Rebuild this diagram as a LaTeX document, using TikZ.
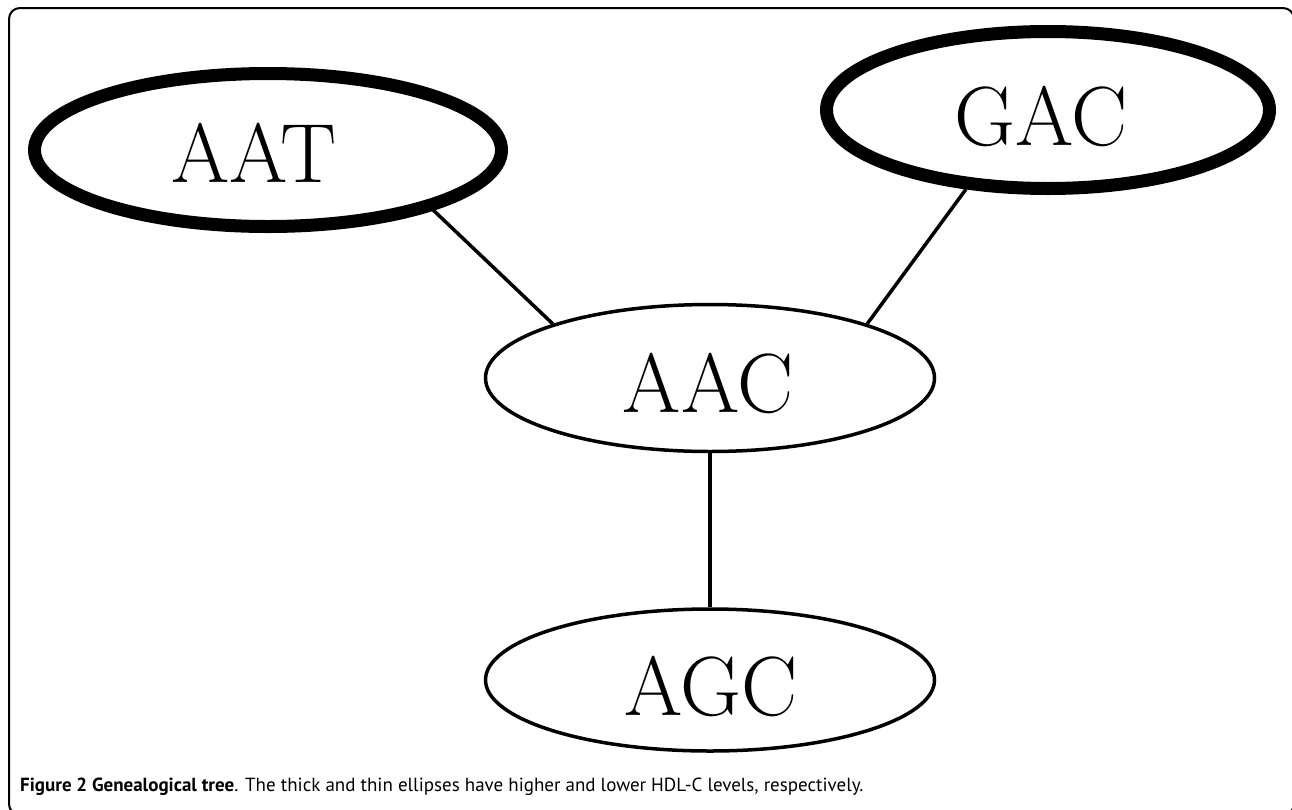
\documentclass[tikz,border=0pt]{standalone}
\usepackage{fontspec}
\newfontfamily\capfont{PT Sans}
\usetikzlibrary{shapes.geometric}
\tikzset{
  gene/.style={draw=black, ellipse, inner sep=0pt},
  hi/.style={gene, line width=13pt},
  lo/.style={gene, line width=3.5pt},
  lbl/.style={inner sep=0pt, font=\fontsize{84}{90}\selectfont},
  link/.style={draw=black, line width=3.5pt}
}
\begin{document}
\begin{tikzpicture}[x=1pt,y=-1pt]
\useasboundingbox (0,0) rectangle (1292,809);
\begin{scope}
\clip (0,0) rectangle (1292,809);
\draw[line width=2pt, rounded corners=11pt] (9,8) rectangle (1294,815);
\end{scope}
\node[hi, minimum width=467pt, minimum height=153pt] (aat) at (268,150) {};
\node[hi, minimum width=443pt, minimum height=157pt] (gac) at (1048,110) {};
\node[lo, minimum width=449pt, minimum height=147pt] (aac) at (710,378) {};
\node[lo, minimum width=449pt, minimum height=142pt] (agc) at (710,680) {};
\node[lbl] (aatt) at (254,153) {AAT};
\node[lbl] (gact) at (1041,116) {GAC};
\node[lbl] (aact) at (708,383) {AAC};
\node[lbl] (agct) at (711,686) {AGC};
\draw[link] (aat.-20.6) -- (aac.161.7);
\draw[link] (gac.-136) -- (aac.19);
\draw[link] (aac.south) -- (agc.north);
\node[anchor=base west, inner sep=0pt, font=\capfont\fontsize{19}{21}\selectfont] (cap) at (20,791)
  {\textbf{Figure 2 Genealogical tree}. The thick and thin ellipses have higher and lower HDL-C levels, respectively.};
\end{tikzpicture}
\end{document}
